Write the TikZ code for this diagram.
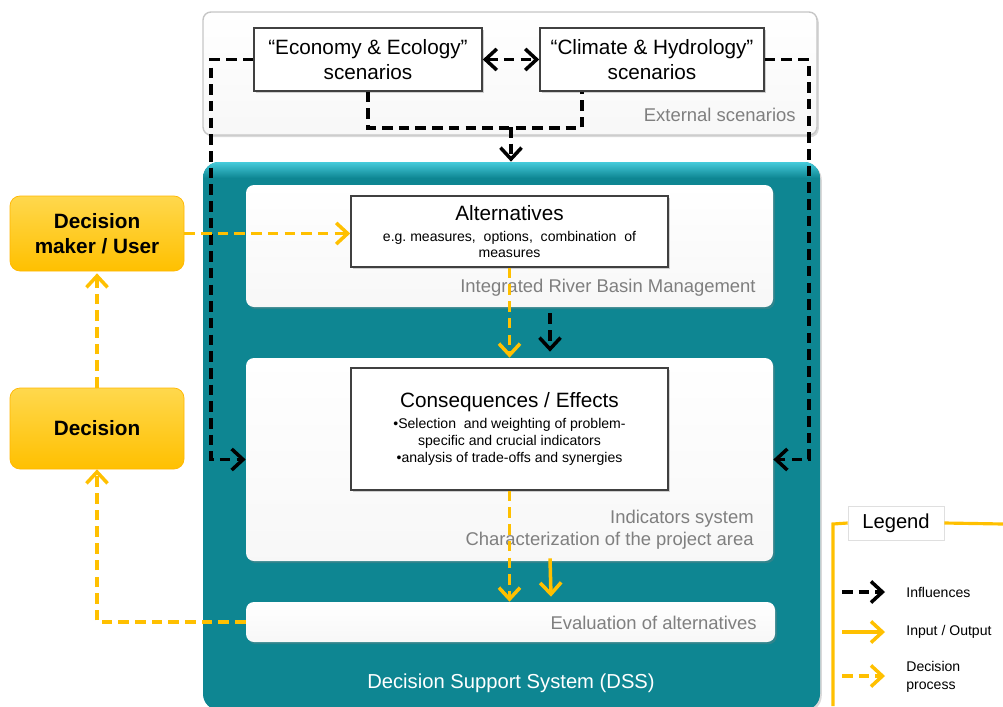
\documentclass[tikz,border=0pt]{standalone}
\usepackage{fontspec}
\setmainfont{Liberation Sans}
\usetikzlibrary{arrows.meta,calc,shadows}
\definecolor{dssteal}{HTML}{0E8692}
\definecolor{dsscyan}{HTML}{45CBDB}
\definecolor{gold}{HTML}{FFC000}
\definecolor{goldlight}{HTML}{FFD84D}
\definecolor{labelgray}{HTML}{7F7F7F}
\newlength{\pxu}\setlength{\pxu}{0.02cm}
\newcommand{\smalltxt}{\fontsize{8}{9.5}\selectfont}
\newcommand{\bigtxt}{\fontsize{11.8}{14}\selectfont}
\tikzset{
  panel/.style={rounded corners=8\pxu, top color=white, bottom color=white!94!gray, draw=none, inner sep=0,
    drop shadow={opacity=0.3, shadow xshift=1pt, shadow yshift=-1.2pt}},
  scenbox/.style={draw=black!75, fill=white, line width=0.9pt, inner sep=0, align=center,
    font=\bigtxt,
    drop shadow={opacity=0.35, shadow xshift=1pt, shadow yshift=-1pt}},
  yelbox/.style={rounded corners=10\pxu, top color=goldlight, bottom color=gold, draw=gold!85!orange,
    inner sep=0, align=center, font=\fontsize{11.8}{14}\selectfont\bfseries},
  graylbl/.style={text=labelgray, font=\fontsize{10.5}{12.5}\selectfont, inner sep=0, align=right},
  legtxt/.style={font=\fontsize{8}{10}\selectfont, inner sep=0, align=left, anchor=west},
  tip/.style={-{Straight Barb[length=6.5pt,width=12pt]}},
  inf/.style={draw=black, line width=2pt, dash pattern=on 6pt off 3.5pt},
  decp/.style={draw=gold, line width=2pt, dash pattern=on 6pt off 3.5pt},
  iop/.style={draw=gold, line width=2pt},
}
\begin{document}
\begin{tikzpicture}[x=0.02cm, y=-0.02cm]
\useasboundingbox (0,0) rectangle (1003,706);

% external scenarios panel
\node[panel, draw=gray!45, line width=0.8pt, minimum width=614\pxu, minimum height=123\pxu] (ext) at (510,73.5) {};
\node[graylbl, anchor=east] (extlbl) at (796,115) {External scenarios};

% DSS panel
\node[rounded corners=16\pxu, fill=dssteal, inner sep=0, minimum width=617\pxu, minimum height=548\pxu,
      drop shadow={opacity=0.3, shadow xshift=1pt, shadow yshift=-1pt}] (dss) at (511.5,436) {};
\begin{scope}
  \clip[rounded corners=16\pxu] (203,162) rectangle (820,710);
  \shade[top color=dsscyan, bottom color=dssteal] (203,162) rectangle (820,178);
\end{scope}
\node[text=white, font=\fontsize{11.5}{14}\selectfont, inner sep=0] (dsslbl) at (511,683) {Decision Support System (DSS)};

% inner panels
\node[panel, minimum width=527\pxu, minimum height=122\pxu] (irbm) at (509.5,246) {};
\node[graylbl, anchor=east] (irbmlbl) at (756,288) {Integrated River Basin Management};
\node[panel, minimum width=527\pxu, minimum height=203\pxu] (ind) at (509.5,459.5) {};
\node[graylbl, anchor=south east] (indlbl) at (754,550) {Indicators system\\Characterization of the project area};
\node[panel, minimum width=529\pxu, minimum height=40\pxu] (eval) at (510.5,622) {};
\node[graylbl, anchor=east] (evallbl) at (757,623) {Evaluation of alternatives};

% scenario boxes
\node[scenbox, minimum width=228\pxu, minimum height=63\pxu] (econ) at (368,59.5) {“Economy \& Ecology”\\scenarios};
\node[scenbox, minimum width=224\pxu, minimum height=63\pxu] (clim) at (652,59.5) {“Climate \& Hydrology”\\scenarios};

% alternatives and consequences
\node[scenbox, minimum width=317\pxu, minimum height=71\pxu] (alt) at (509.5,231.5)
  {\parbox{300\pxu}{\centering\bigtxt Alternatives\par\vspace{2.5pt}
   \smalltxt e.g.\ measures,\ \ options,\ \ combination\ \ of\\measures\par}};
\node[scenbox, minimum width=317\pxu, minimum height=122\pxu] (cons) at (509.5,429)
  {\parbox{300\pxu}{\centering\bigtxt Consequences / Effects\par\vspace{2.5pt}
   \smalltxt •Selection\ \ and\ weighting\ of\ problem-\\specific and crucial indicators\\•analysis of trade-offs and synergies\par}};

% yellow boxes
\node[yelbox, minimum width=174\pxu, minimum height=75\pxu] (dm) at (97,233.5) {Decision\\maker / User};
\node[yelbox, minimum width=174\pxu, minimum height=81\pxu] (dec) at (97,428.5) {Decision};

% influences (black dashed)
\draw[inf, {Straight Barb[length=6.5pt,width=12pt]}-{Straight Barb[length=6.5pt,width=12pt]}] (econ.east) -- (clim.west);
\draw[inf] (econ.south) -- ++(0,36) coordinate (jl) -| ([xshift=-70\pxu]clim.south);
\coordinate (mid) at (511,127);
\draw[inf, tip] (mid) -- (mid |- dss.north);
\draw[inf, tip] (econ.west) -- ++(-42,0) |- (ind.west);
\draw[inf, tip] (clim.east) -- ++(44,0) |- (ind.east);
\draw[inf, tip] ($(irbm.south)+(40.5,6)$) -- ($(ind.north)+(40.5,-6)$);

% decision process (yellow dashed)
\draw[decp, tip] (dm.east) -- (dm.east -| alt.west);
\draw[decp, tip] (alt.south) -- (alt.south |- ind.north);
\draw[decp, tip] (cons.south) -- (cons.south |- eval.north);
\draw[decp, tip] (eval.west) -| (dec.south);
\draw[decp, tip] (dec.north) -- ([yshift=-2\pxu]dm.south);

% input / output (yellow solid)
\draw[iop, tip] ($(ind.south)+(40.5,-3)$) -- ($(eval.north)+(40.5,-5)$);

% legend
\node[draw=gray!25, fill=white, inner sep=0, minimum width=96\pxu, minimum height=34\pxu,
      font=\fontsize{11.5}{14}\selectfont] (leg) at (896,523) {Legend};
\draw[gold, line width=1.8pt] (leg.east) -- (1003,524);
\draw[gold, line width=1.8pt] (leg.west) -- (833,524) coordinate (lc) -- (833,706) coordinate (lb);
\coordinate (l1a) at (842,592); \coordinate (l1b) at (885,592);
\coordinate (l2a) at (842,632); \coordinate (l2b) at (885,632);
\coordinate (l3a) at (842,676); \coordinate (l3b) at (885,676);
\draw[inf, tip] (l1a) -- (l1b);
\draw[iop, tip] (l2a) -- (l2b);
\draw[decp, tip] (l3a) -- (l3b);
\node[legtxt] (t1) at (906,592) {Influences};
\node[legtxt] (t2) at (906,632) {Input / Output};
\node[legtxt] (t3) at (906,677) {Decision\\process};
\end{tikzpicture}
\end{document}
